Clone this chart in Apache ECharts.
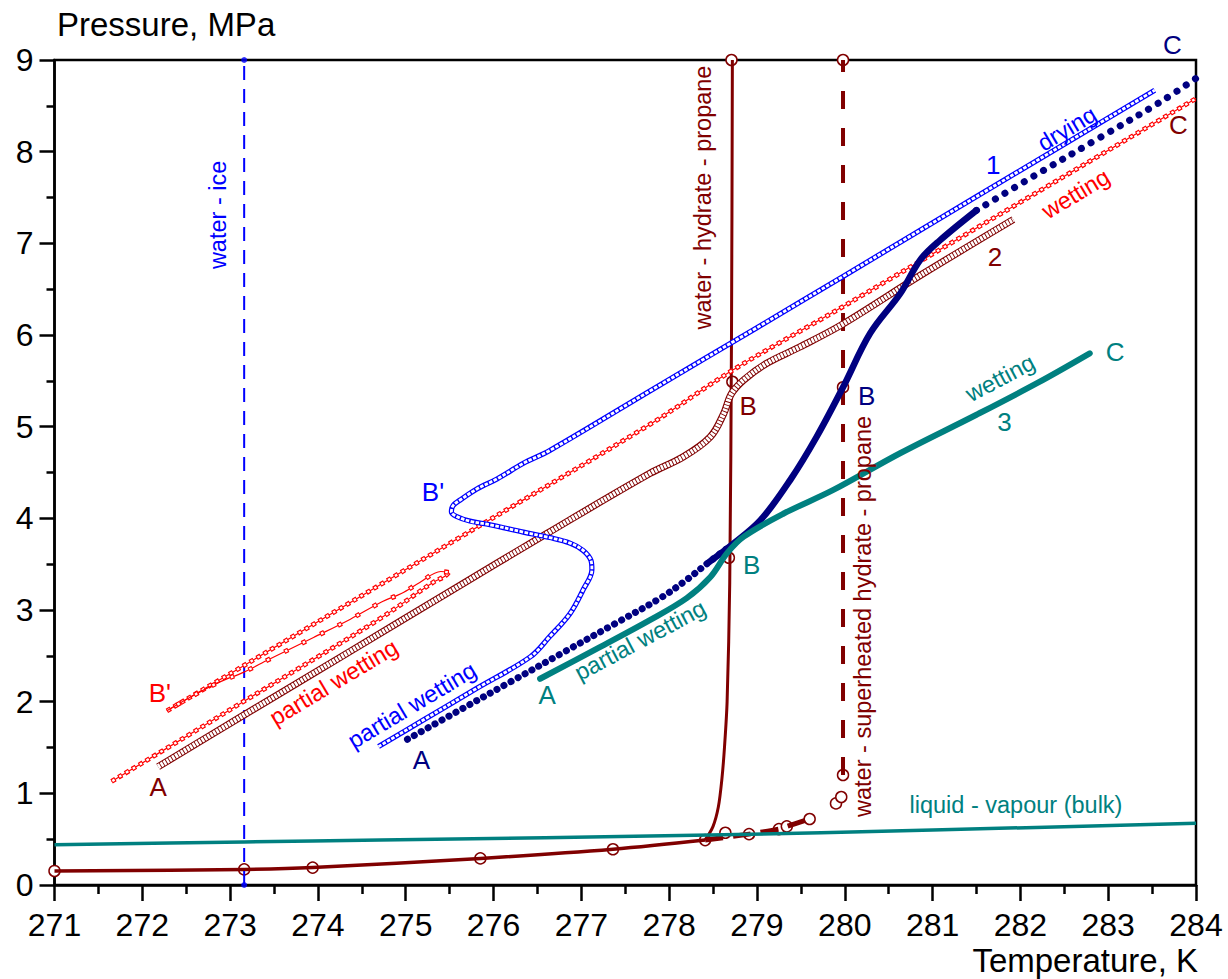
<!DOCTYPE html>
<html><head><meta charset="utf-8">
<script src="https://cdn.jsdelivr.net/npm/echarts@6/dist/echarts.min.js"></script>
<style>html,body{margin:0;padding:0;background:#fff}#c{width:1228px;height:979px}</style>
</head><body><div id="c"></div>
<script>
// ---------- axes ----------
const xTicks = [271,272,273,274,275,276,277,278,279,280,281,282,283,284];
const yTicks = [0,1,2,3,4,5,6,7,8,9];

// ---------- data (T in K, P in MPa) ----------
// liquid - vapour (bulk)
const bulkT = [271, 273.16, 274.71, 278.46, 281, 284];
const bulkP = [0.44, 0.47, 0.49, 0.545, 0.60, 0.673];
// hydrate - vapour, low branch (solid)
const lowT = [271, 273.16, 273.94, 275.85, 277.36, 278.41];
const lowP = [0.153, 0.17, 0.19, 0.29, 0.39, 0.49];
// superheated continuation (dashed)
const shT = [278.41, 278.91, 279.25, 279.34, 279.6];
const shP = [0.49, 0.555, 0.61, 0.64, 0.72];
// water - hydrate - propane
const hydT = [278.41, 278.5, 278.56, 278.6, 278.63, 278.66, 278.69, 278.71, 278.72];
const hydP = [0.49, 0.64, 0.85, 1.15, 1.5, 2.0, 3.3, 6.0, 9.0];
// water - superheated hydrate - propane
const shvT = [279.98, 279.98];
const shvP = [1.2, 9.0];
// water - ice
const iceT = [273.16, 273.16];
const iceP = [0, 9];
// open circles
const circT = [271, 273.16, 273.94, 275.85, 277.36, 278.41, 278.64, 278.91, 279.25, 279.34, 279.6, 279.9, 279.96, 279.98, 279.98, 279.98, 278.71, 278.72, 278.68];
const circP = [0.153, 0.17, 0.19, 0.29, 0.39, 0.49, 0.57, 0.555, 0.61, 0.64, 0.72, 0.89, 0.96, 1.2, 5.43, 9.0, 9.0, 5.49, 3.57];

// curve 1 (drying, blue)
const blueT = [274.69, 275.2, 275.8, 276.42, 276.64, 276.87, 277.02, 277.12, 277.11, 277.02, 276.87, 276.64, 276.34, 275.96, 275.73, 275.58, 275.52, 275.54, 275.62, 275.81, 276.04, 276.34, 276.64, 277.8, 279.0, 280.0, 281.5, 283.53];
const blueP = [1.51, 1.80, 2.14, 2.49, 2.71, 2.96, 3.22, 3.44, 3.54, 3.65, 3.73, 3.79, 3.85, 3.93, 3.97, 4.02, 4.07, 4.14, 4.20, 4.32, 4.43, 4.60, 4.74, 5.40, 6.08, 6.65, 7.51, 8.67];
// wetting (red): lower branch, unstable branch, upper branch
const redLowT = [271.65, 272.5, 273.15, 274.0, 274.73, 275.31, 275.45, 275.49];
const redLowP = [1.13, 1.62, 2.0, 2.49, 2.92, 3.30, 3.37, 3.41];
const redMidT = [275.49, 275.40, 275.16, 274.95, 274.73, 274.37, 273.95, 273.44, 273.15, 272.87, 272.55, 272.28];
const redMidP = [3.41, 3.42, 3.30, 3.18, 3.09, 2.90, 2.70, 2.46, 2.32, 2.21, 2.05, 1.90];
const redUpT = [272.28, 273.15, 275.56, 277.79, 278.73, 279.98, 284.0];
const redUpP = [1.90, 2.39, 3.76, 5.03, 5.62, 6.31, 8.58];
// curve 2 (dark red)
const dr2T = [272.18, 273.15, 274.37, 275.5, 276.6, 277.78, 278.16, 278.47, 278.62, 278.71, 278.85, 279.11, 279.49, 279.98, 280.86, 281.92];
const dr2P = [1.29, 1.85, 2.55, 3.2, 3.83, 4.49, 4.67, 4.89, 5.14, 5.36, 5.51, 5.69, 5.87, 6.12, 6.65, 7.26];
// navy curve A-B-C
const navyT = [275.02, 275.6, 276.2, 276.8, 277.4, 277.9, 278.2, 278.45, 278.7, 279.04, 279.38, 279.68, 279.98, 280.29, 280.63, 280.86, 281.08, 281.5, 282.2, 282.9, 283.59, 284.0];
const navyP = [1.59, 1.90, 2.22, 2.54, 2.86, 3.13, 3.33, 3.52, 3.70, 3.98, 4.42, 4.89, 5.43, 6.02, 6.45, 6.82, 7.03, 7.36, 7.76, 8.15, 8.54, 8.80];
// curve 3 (teal)
const t3T = [276.53, 277.2, 277.78, 278.2, 278.47, 278.66, 278.85, 279.3, 279.87, 280.63, 281.5, 282.2, 282.79];
const t3P = [2.25, 2.59, 2.89, 3.13, 3.36, 3.62, 3.80, 4.05, 4.31, 4.71, 5.13, 5.48, 5.80];

// annotations
const annText = ['water - ice','water - hydrate - propane','water - superheated hydrate - propane','liquid - vapour (bulk)','1','drying','wetting','2','C','C',"B'",'partial wetting','A','A','partial wetting','B','B','B','wetting','3','C','partial wetting',"B'",'A'];
const annT = [272.86, 278.39, 280.21, 281.95, 281.69, 282.53, 282.63, 281.71, 283.80, 283.73, 275.31, 275.07, 275.18, 276.61, 277.67, 278.90, 280.25, 278.94, 281.77, 281.82, 283.08, 274.18, 272.20, 272.18];
const annP = [7.31, 7.50, 2.93, 0.87, 7.85, 8.25, 7.54, 6.85, 8.29, 9.16, 4.29, 1.96, 1.36, 2.07, 2.67, 5.23, 5.34, 3.49, 5.53, 5.05, 5.81, 2.21, 2.10, 1.07];
const annColor = ['blue','dr','dr','teal','blue','blue','red','dr','dr','navy','blue','blue','navy','teal','teal','dr','navy','teal','teal','teal','teal','red','red','dr'];
const annRot = [90,90,90,0,0,31,31,0,0,0,0,31,0,0,28,0,0,0,28,0,0,31,0,0];

// ---------- styles ----------
const C = {navy:'#000080', blue:'#0000ff', red:'#ff0000', dr:'#800000', teal:'#008080', black:'#000000'};
const FONT = '"Liberation Sans", Arial, Helvetica, sans-serif';

const pts = (T, P) => T.map((t, i) => [t, P[i]]);
function ln(data, color, width, o) {
  o = o || {};
  return {
    type: 'line', data: data, symbol: 'none', showSymbol: false,
    smooth: o.smooth === undefined ? 0.35 : o.smooth,
    lineStyle: {color: color, width: width, type: o.dash || 'solid', dashOffset: o.offset || 0, cap: o.cap || 'butt', join: 'round'},
    silent: true, animation: false, emphasis: {disabled: true}
  };
}
const sel = (T, P, lo, hi) => pts(T, P).filter(p => p[0] >= lo && p[0] <= hi);

const series = [];
// base lines
series.push(ln(pts(lowT, lowP), C.dr, 3.5));
series.push(ln(pts(shT, shP), C.dr, 5, {dash: [18, 10], smooth: 0.2}));
series.push(ln(pts(hydT, hydP), C.dr, 3, {smooth: 0.3}));
series.push(ln(pts(shvT, shvP), C.dr, 4, {dash: [18, 19], smooth: false}));
series.push(ln(pts(iceT, iceP), C.blue, 2, {dash: [14, 9], smooth: false}));
// curve 2: chain of open circles
series.push(ln(pts(dr2T, dr2P), C.dr, 7.2));
series.push(ln(pts(dr2T, dr2P), '#ffffff', 5, {dash: [2.5, 0.9]}));
// wetting (red): open squares joined by thin line
[[redLowT, redLowP, 8], [redUpT, redUpP, 8]].forEach(([T, P, per]) => {
  series.push(ln(pts(T, P), C.red, 1.2));
  series.push(ln(pts(T, P), C.red, 4.8, {dash: [4.6, per - 4.6]}));
  series.push(ln(pts(T, P), '#ffffff', 2.4, {dash: [2.6, per - 2.6], offset: per - 1}));
});
series.push(ln(pts(redMidT, redMidP), C.red, 1.2));
series.push(ln(pts(redMidT, redMidP), C.red, 4.8, {dash: [4.6, 15.4]}));
series.push(ln(pts(redMidT, redMidP), '#ffffff', 2.4, {dash: [2.6, 17.4], offset: 19}));
// drying (blue): chain of small open squares
series.push(ln(pts(blueT, blueP), C.blue, 5.2));
series.push(ln(pts(blueT, blueP), '#ffffff', 2.8, {dash: [3.6, 1.4]}));
// navy: filled dots, dense in the middle
series.push(ln(sel(navyT, navyP, 0, 278.7), C.navy, 7, {dash: [0.1, 7.8], cap: 'round'}));
series.push(ln(sel(navyT, navyP, 278.45, 281.5), C.navy, 6.5, {cap: 'round'}));
series.push(ln(sel(navyT, navyP, 281.5, 300), C.navy, 7, {dash: [0.1, 11], cap: 'round'}));
// liquid - vapour bulk
series.push(ln(pts(bulkT, bulkP), C.teal, 3.5));
// open circles
series.push({
  type: 'scatter', data: pts(circT, circP), symbol: 'circle', symbolSize: 11,
  itemStyle: {color: '#ffffff', borderColor: C.dr, borderWidth: 1.5, opacity: 1},
  silent: true, animation: false, emphasis: {disabled: true}
});
// water-ice end dots
series.push({
  type: 'scatter', data: pts(iceT, iceP), symbol: 'circle', symbolSize: 6,
  itemStyle: {color: C.blue}, silent: true, animation: false, clip: false, emphasis: {disabled: true}
});
// curve 3 teal
series.push(ln(pts(t3T, t3P), C.teal, 6, {cap: 'round'}));
// annotations
series.push({
  type: 'scatter', symbolSize: 1, itemStyle: {color: 'rgba(255,255,255,0)'}, clip: false, silent: true, animation: false,
  emphasis: {disabled: true}, labelLayout: {hideOverlap: false}, z: 10,
  data: annText.map((t, i) => ({
    name: t, value: [annT[i], annP[i]],
    label: {show: true, position: 'inside', formatter: '{b}', color: C[annColor[i]],
      textBorderWidth: 0, textBorderColor: 'transparent', textShadowBlur: 0, opacity: 1,
      rotate: annRot[i], fontSize: t.length <= 2 ? 26 : 23.5, fontFamily: FONT, align: 'center', verticalAlign: 'middle'}
  }))
});

const axisCommon = {
  type: 'value', splitLine: {show: false}, minorSplitLine: {show: false},
  axisLine: {show: true, onZero: false, lineStyle: {color: C.black, width: 2.5}},
};
const option = {
  backgroundColor: '#ffffff',
  animation: false,
  grid: {left: 54.5, right: 32, top: 60, bottom: 94, show: true, borderColor: C.black, borderWidth: 2.5, containLabel: false, outerBoundsMode: 'none'},
  xAxis: Object.assign({}, axisCommon, {
    min: xTicks[0], max: xTicks[xTicks.length - 1], interval: 1,
    axisTick: {show: true, inside: false, length: 16, lineStyle: {color: C.black, width: 2.5}},
    minorTick: {show: true, splitNumber: 2, length: 9, lineStyle: {color: C.black, width: 2.5}},
    axisLabel: {color: C.black, fontSize: 32, lineHeight: 26, fontFamily: FONT, margin: 27, hideOverlap: false, showMinLabel: true, showMaxLabel: true}
  }),
  yAxis: Object.assign({}, axisCommon, {
    min: yTicks[0], max: yTicks[yTicks.length - 1], interval: 1,
    axisTick: {show: true, inside: false, length: 15, lineStyle: {color: C.black, width: 2.5}},
    minorTick: {show: true, splitNumber: 2, length: 8, lineStyle: {color: C.black, width: 2.5}},
    axisLabel: {color: C.black, fontSize: 32, lineHeight: 26, fontFamily: FONT, margin: 21, hideOverlap: false, showMinLabel: true, showMaxLabel: true}
  }),
  graphic: [
    {type: 'text', left: 57, top: 8, style: {text: 'Pressure, MPa', font: '33px ' + FONT, lineHeight: 30, fill: C.black}},
    {type: 'text', right: 30, top: 944, style: {text: 'Temperature, K', font: '33px ' + FONT, lineHeight: 28, fill: C.black}}
  ],
  series: series
};
const chart = echarts.init(document.getElementById('c'), null, {renderer: 'svg', width: 1228, height: 979});
chart.setOption(option);
</script>
</body></html>
